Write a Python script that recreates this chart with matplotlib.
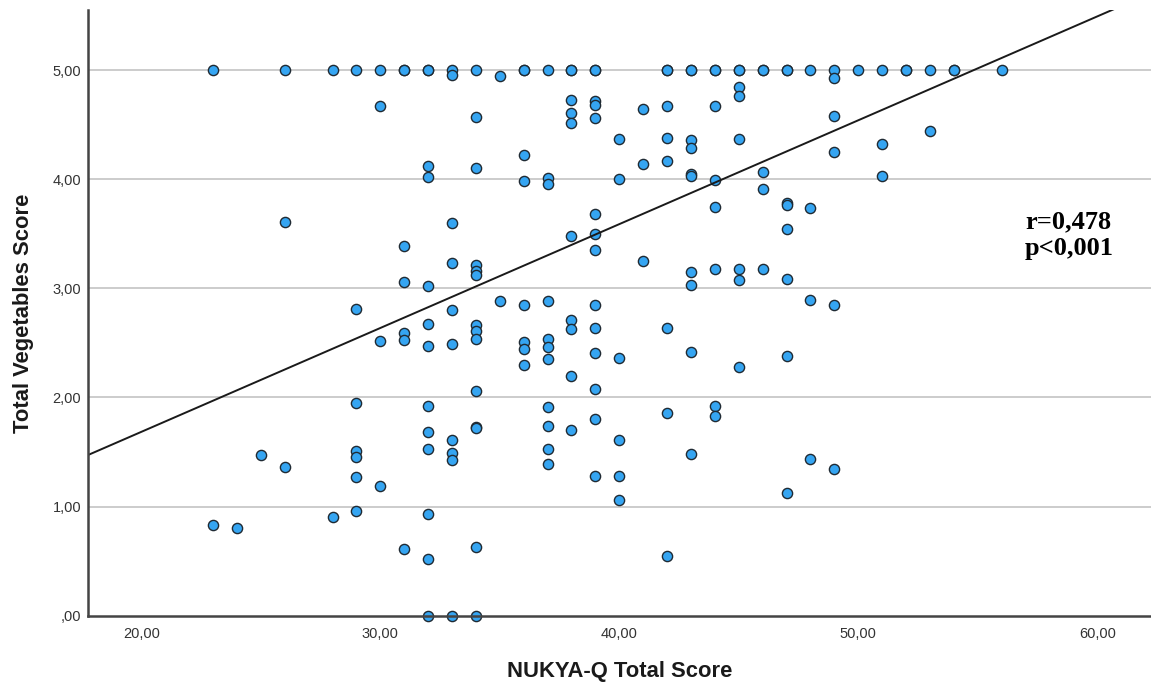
import numpy as np
import matplotlib
matplotlib.use('Agg')
import matplotlib.pyplot as plt

# NUKYA-Q total score (x) and Total Vegetables Score (y)
nukya = [23, 23, 24, 25, 26, 26, 26, 28, 28,
         29, 29, 29, 29, 29, 29, 29,
         30, 30, 30, 30,
         31, 31, 31, 31, 31, 31, 31,
         32, 32, 32, 32, 32, 32, 32, 32, 32, 32, 32, 32, 32,
         33, 33, 33, 33, 33, 33, 33, 33, 33, 33,
         34, 34, 34, 34, 34, 34, 34, 34, 34, 34, 34, 34, 34, 34,
         35, 35,
         36, 36, 36, 36, 36, 36, 36, 36,
         37, 37, 37, 37, 37, 37, 37, 37, 37, 37, 37,
         38, 38, 38, 38, 38, 38, 38, 38, 38, 38,
         39, 39, 39, 39, 39, 39, 39, 39, 39, 39, 39, 39, 39, 39,
         40, 40, 40, 40, 40, 40,
         41, 41, 41,
         42, 42, 42, 42, 42, 42, 42, 42,
         43, 43, 43, 43, 43, 43, 43, 43, 43, 43,
         44, 44, 44, 44, 44, 44, 44, 44,
         45, 45, 45, 45, 45, 45, 45, 45,
         46, 46, 46, 46, 46,
         47, 47, 47, 47, 47, 47, 47, 47,
         48, 48, 48, 48,
         49, 49, 49, 49, 49, 49,
         50, 51, 51, 51, 52, 52, 53, 53, 54, 54, 56]
veg = [5.00, 0.83, 0.80, 1.47, 5.00, 3.61, 1.36, 5.00, 0.90,
       5.00, 2.81, 1.95, 1.51, 1.45, 1.27, 0.96,
       5.00, 4.67, 2.52, 1.19,
       5.00, 5.00, 3.39, 3.06, 2.59, 2.53, 0.61,
       5.00, 5.00, 4.12, 4.02, 3.02, 2.67, 2.47, 1.92, 1.68, 1.53, 0.93, 0.52, 0.00,
       5.00, 4.96, 3.60, 3.23, 2.80, 2.49, 1.61, 1.49, 1.43, 0.00,
       5.00, 4.57, 4.10, 3.21, 3.16, 3.12, 2.66, 2.61, 2.54, 2.06, 1.73, 1.72, 0.63, 0.00,
       4.95, 2.88,
       5.00, 5.00, 4.22, 3.98, 2.85, 2.51, 2.44, 2.30,
       5.00, 4.01, 3.96, 2.88, 2.54, 2.46, 2.35, 1.91, 1.74, 1.53, 1.39,
       5.00, 5.00, 4.73, 4.61, 4.52, 3.48, 2.71, 2.63, 2.20, 1.70,
       5.00, 5.00, 4.72, 4.68, 4.56, 3.68, 3.50, 3.35, 2.85, 2.64, 2.41, 2.08, 1.80, 1.28,
       4.37, 4.00, 2.36, 1.61, 1.28, 1.06,
       4.64, 4.14, 3.25,
       5.00, 5.00, 4.67, 4.38, 4.17, 2.64, 1.86, 0.55,
       5.00, 5.00, 4.36, 4.29, 4.05, 4.03, 3.15, 3.03, 2.42, 1.48,
       5.00, 5.00, 4.67, 3.99, 3.75, 3.18, 1.92, 1.83,
       5.00, 5.00, 4.85, 4.76, 4.37, 3.18, 3.08, 2.28,
       5.00, 5.00, 4.07, 3.91, 3.18,
       5.00, 5.00, 3.78, 3.76, 3.54, 3.09, 2.38, 1.12,
       5.00, 3.74, 2.89, 1.44,
       5.00, 4.93, 4.58, 4.25, 2.85, 1.34,
       5.00, 5.00, 4.32, 4.03, 5.00, 5.00, 5.00, 4.44, 5.00, 5.00, 5.00]

# fit line as shown on the chart
line_slope = 0.0952
line_intercept = -0.219

x_ticks = [20, 30, 40, 50, 60]
x_tick_labels = ['20,00', '30,00', '40,00', '50,00', '60,00']
y_ticks = [0, 1, 2, 3, 4, 5]
y_tick_labels = [',00', '1,00', '2,00', '3,00', '4,00', '5,00']

fig = plt.figure(figsize=(11.51, 6.84), dpi=100)
ax = fig.add_axes([0.0765, 0.0999, 0.9235, 0.8855])

xlim = (17.77, 62.25)
ylim = (0, 5.552)

for v in y_ticks[1:]:
    ax.axhline(v, color='#c8c8c8', lw=1.3, zorder=1)

ax.scatter(nukya, veg, s=54, color='#35a5f2', edgecolors='#1f2a33',
           linewidths=1.0, zorder=3, clip_on=False)

lx = np.array(xlim)
ax.plot(lx, line_slope * lx + line_intercept, color='#1a1a1a', lw=1.4, zorder=4)

ax.set_xlim(*xlim)
ax.set_ylim(*ylim)
ax.set_xticks(x_ticks)
ax.set_xticklabels(x_tick_labels)
ax.set_yticks(y_ticks)
ax.set_yticklabels(y_tick_labels)
ax.tick_params(length=0, labelsize=10.5, colors='#333333', pad=5,
               labelfontfamily='Liberation Sans')
ax.tick_params(axis='x', pad=8)

for s in ['top', 'right']:
    ax.spines[s].set_visible(False)
for s in ['left', 'bottom']:
    ax.spines[s].set_color('#444444')
    ax.spines[s].set_linewidth(1.8)
    ax.spines[s].set_zorder(5)

ax.set_xlabel('NUKYA-Q Total Score', family='Liberation Sans', weight='bold',
              fontsize=15.8, color='#1a1a1a', va='center')
ax.set_ylabel('Total Vegetables Score', family='Liberation Sans', weight='bold',
              fontsize=15.8, color='#1a1a1a', va='center')
ax.xaxis.set_label_coords(0.5003, -0.0915)
ax.yaxis.set_label_coords(-0.0611, 0.499)

ax.text(56.97, 3.49, 'r=0,478\np<0,001', transform=ax.transData,
        family='Liberation Serif', weight='bold', fontsize=19, ha='left', va='center',
        linespacing=1.2, color='black')

fig.savefig('out.png', dpi=100)
